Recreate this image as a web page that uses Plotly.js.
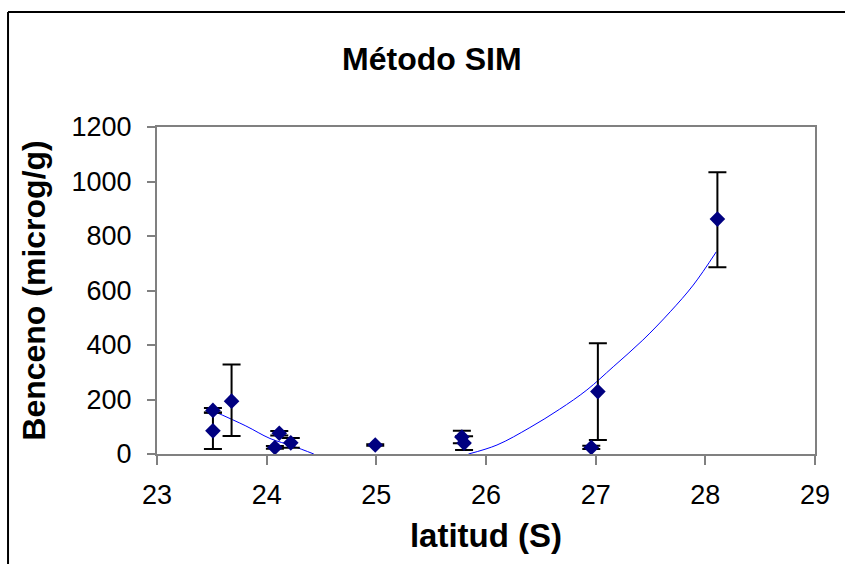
<!DOCTYPE html>
<html>
<head>
<meta charset="utf-8">
<script src="https://cdn.plot.ly/plotly-3.0.1.min.js"></script>
<style>
  html, body { margin: 0; padding: 0; background: #ffffff; }
  #chart { width: 845px; height: 564px; }
</style>
</head>
<body>
<div id="chart"></div>
<script>
// Data
const latitud = [23.51, 23.51, 23.68, 24.075, 24.115, 24.22, 24.99, 25.78, 25.80, 26.96, 27.02, 28.11];
const benceno = [160, 85, 194, 24, 76, 41, 33, 62, 40, 24, 229, 862];
const errorPlus = [9, 67, 134, 5, 8, 18, 3, 23, 25, 6, 177, 172];
const errorMinus = [9, 67, 128, 5, 8, 18, 3, 23, 25, 6, 178, 177];

// Trendline (as drawn in the reference, clipped at 0)
const trendAX = [23.50, 23.81, 24.03, 24.24, 24.43];
const trendAY = [160, 103, 57, 29, 0];
const trendBX = [25.84, 26.10, 26.40, 26.67, 26.92, 27.16, 27.43, 27.68, 27.89, 28.10];
const trendBY = [0, 33, 97, 164, 235, 320, 418, 522, 620, 742];

const xTicks = [23, 24, 25, 26, 27, 28, 29];
const yTicks = [0, 200, 400, 600, 800, 1000, 1200];

const FONT = "Liberation Sans, Arial, Helvetica, sans-serif";

const traces = [
  {
    x: trendAX, y: trendAY, type: 'scatter', mode: 'lines',
    line: { color: '#0000FF', width: 1, shape: 'spline' },
    hoverinfo: 'skip', showlegend: false
  },
  {
    x: trendBX, y: trendBY, type: 'scatter', mode: 'lines',
    line: { color: '#0000FF', width: 1, shape: 'spline' },
    hoverinfo: 'skip', showlegend: false
  },
  {
    x: latitud, y: benceno, type: 'scatter', mode: 'markers',
    marker: { symbol: 'diamond', color: '#000080', size: 12, line: { width: 0 } },
    error_y: {
      type: 'data', symmetric: false, array: errorPlus, arrayminus: errorMinus,
      color: '#000000', thickness: 2, width: 9, visible: true
    },
    showlegend: false
  }
];

const layout = {
  width: 845, height: 564,
  paper_bgcolor: '#ffffff', plot_bgcolor: '#ffffff',
  margin: { l: 157, r: 30, t: 127, b: 110, pad: 0 },
  font: { family: FONT, color: '#000000' },
  showlegend: false,
  title: {
    text: '<b>Método SIM</b>',
    font: { family: FONT, size: 32, color: '#000000' },
    x: 0.511, xanchor: 'center', xref: 'container',
    y: 0.896, yanchor: 'middle', yref: 'container'
  },
  xaxis: {
    range: [23, 29], tickvals: xTicks, ticktext: xTicks.map(String),
    showgrid: false, zeroline: false,
    showline: true, linecolor: '#808080', linewidth: 2, mirror: true,
    ticks: 'outside', ticklen: 9, tickwidth: 2, tickcolor: '#808080',
    tickfont: { family: FONT, size: 27, color: '#000000' },
    ticklabelstandoff: 7,
    title: { text: '<b>latitud (S)</b>', font: { family: FONT, size: 33, color: '#000000' }, standoff: 14 },
    automargin: false, fixedrange: true
  },
  yaxis: {
    range: [0, 1200], tickvals: yTicks, ticktext: yTicks.map(String),
    showgrid: false, zeroline: false,
    showline: true, linecolor: '#808080', linewidth: 2, mirror: true,
    ticks: 'outside', ticklen: 8, tickwidth: 2, tickcolor: '#808080',
    tickfont: { family: FONT, size: 27, color: '#000000' },
    ticklabelstandoff: 10,
    title: { text: '<b>Benceno (microg/g)</b>', font: { family: FONT, size: 32, color: '#000000' }, standoff: 16 },
    automargin: false, fixedrange: true
  },
  shapes: [
    { type: 'line', xref: 'paper', yref: 'paper', x0: -0.2264, x1: 1.06, y0: 1.3517, y1: 1.3517,
      line: { color: '#000000', width: 2 } },
    { type: 'line', xref: 'paper', yref: 'paper', x0: -0.2264, x1: -0.2264, y0: 1.3517, y1: -0.36,
      line: { color: '#000000', width: 2 } }
  ]
};

Plotly.newPlot('chart', traces, layout, { displayModeBar: false, staticPlot: true });
</script>
</body>
</html>
